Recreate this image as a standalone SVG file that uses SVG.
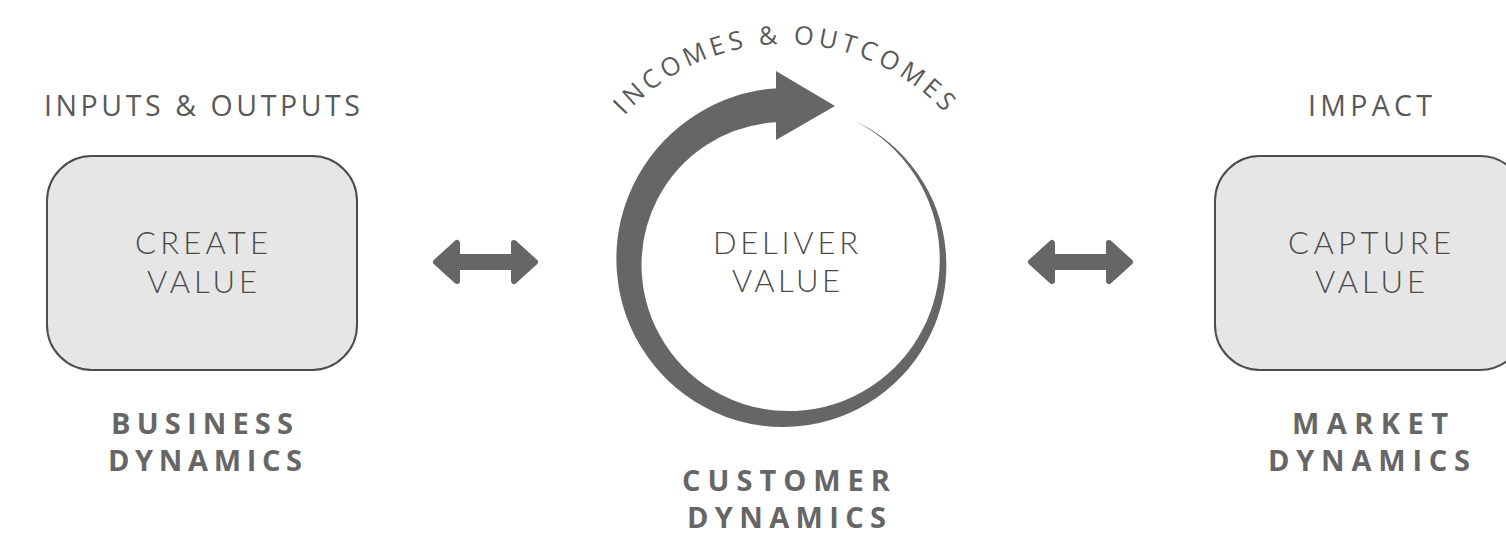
<svg xmlns="http://www.w3.org/2000/svg" width="1506" height="536" viewBox="0 0 1506 536">
  <style>
    .lbl { font-family: "Open Sans", "Liberation Sans", sans-serif; font-size: 28.5px; font-weight: 500; fill: #595959; }
    .val { font-family: Lato, "Open Sans", "Liberation Sans", sans-serif; font-size: 31px; font-weight: 300; fill: #4a4a4a; }
    .dyn { font-family: "Open Sans", "Liberation Sans", sans-serif; font-size: 29px; font-weight: 700; fill: #666666; }
    .arc { font-family: "Open Sans", "Liberation Sans", sans-serif; font-size: 25.5px; font-weight: 500; fill: #595959; letter-spacing: 4.4px; }
    .box { fill: #e6e6e6; stroke: #4d4d4d; stroke-width: 2; }
    .dbl { fill: #666666; stroke: #666666; stroke-width: 6; stroke-linejoin: round; }
  </style>
  <defs>
    <path id="arcPath" d="M 568,262 A 218 218 0 0 1 1004,262"/>
    <path id="dblArrow" d="M436,262 L457,243 L457,257 L514,257 L514,243 L535,262 L514,281 L514,267 L457,267 L457,281 Z"/>
  </defs>

  <g id="create-node">
    <text class="lbl" x="44" y="115.5" textLength="316" lengthAdjust="spacing">INPUTS &amp; OUTPUTS</text>
    <rect class="box" x="47" y="156" width="310" height="214" rx="45" ry="45"/>
    <text class="val" x="135" y="254" textLength="133" lengthAdjust="spacing">CREATE</text>
    <text class="val" x="147" y="292.5" textLength="110" lengthAdjust="spacing">VALUE</text>
    <text class="dyn" x="111" y="434" textLength="182" lengthAdjust="spacing">BUSINESS</text>
    <text class="dyn" x="108" y="471" textLength="194" lengthAdjust="spacing">DYNAMICS</text>
  </g>

  <g id="deliver-node">
    <text class="arc"><textPath href="#arcPath" startOffset="50%" text-anchor="middle">INCOMES &amp; OUTCOMES</textPath></text>
    <path fill="#666666" d="M 854.83,120.89
      A 157.8 157.8 0 0 1 917.44,173.34
      A 159.3 159.3 0 0 1 945.71,250.83
      A 160.9 160.9 0 0 1 931.28,332.86
      A 162.4 162.4 0 0 1 877.25,397.28
      A 164 164 0 0 1 797.50,426.33
      A 165.5 165.5 0 0 1 713.11,411.44
      A 167 167 0 0 1 646.88,355.85
      A 168.6 168.6 0 0 1 617.05,273.82
      A 170.1 170.1 0 0 1 632.39,187.07
      A 171.7 171.7 0 0 1 689.57,119.04
      A 173.2 173.2 0 0 1 773.85,88.42
      L 776,88.4 L 776,71 L 835,106 L 776,140 L 776,122.34
      A 140.8 140.8 0 0 0 706.85,144.65
      A 142.3 142.3 0 0 0 657.39,199.27
      A 143.9 143.9 0 0 0 641.71,272.10
      A 145.4 145.4 0 0 0 664.82,343.74
      A 147 147 0 0 0 721.23,394.78
      A 148.5 148.5 0 0 0 796.42,410.91
      A 150 150 0 0 0 870.34,387.03
      A 151.6 151.6 0 0 0 922.94,328.79
      A 153.1 153.1 0 0 0 939.54,251.26
      A 154.7 154.7 0 0 0 914.87,175.07
      A 156.2 156.2 0 0 0 854.83,120.89 Z"/>
    <text class="val" x="713" y="254" textLength="145" lengthAdjust="spacing">DELIVER</text>
    <text class="val" x="732" y="292" textLength="108" lengthAdjust="spacing">VALUE</text>
    <text class="dyn" x="682" y="490.5" textLength="208" lengthAdjust="spacing">CUSTOMER</text>
    <text class="dyn" x="687" y="528" textLength="199" lengthAdjust="spacing">DYNAMICS</text>
  </g>

  <g id="capture-node">
    <text class="lbl" x="1308" y="116" textLength="124" lengthAdjust="spacing">IMPACT</text>
    <rect class="box" x="1215" y="156" width="310" height="214" rx="45" ry="45"/>
    <text class="val" x="1288" y="253.5" textLength="163" lengthAdjust="spacing">CAPTURE</text>
    <text class="val" x="1315" y="292.5" textLength="110" lengthAdjust="spacing">VALUE</text>
    <text class="dyn" x="1292" y="434" textLength="156" lengthAdjust="spacing">MARKET</text>
    <text class="dyn" x="1268" y="471" textLength="202" lengthAdjust="spacing">DYNAMICS</text>
  </g>

  <g id="connectors">
    <use href="#dblArrow" class="dbl"/>
    <use href="#dblArrow" class="dbl" transform="translate(595,0)"/>
  </g>
</svg>
